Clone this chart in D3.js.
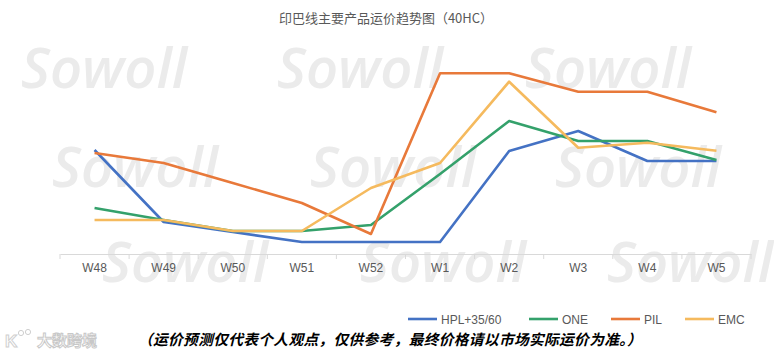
<!DOCTYPE html>
<html><head><meta charset="utf-8">
<script src="https://cdn.jsdelivr.net/npm/d3@7/dist/d3.min.js"></script>
<style>
html,body{margin:0;padding:0;background:#fff;}
svg{display:block;}
</style></head>
<body>
<svg id="chart" width="774" height="353"></svg>
<script>
const title = "印巴线主要产品运价趋势图（40HC）";
const categories = ["W48","W49","W50","W51","W52","W1","W2","W3","W4","W5"];
const seriesNames = ["HPL+35/60","ONE","PIL","EMC"];
const seriesColors = ["#4472C4","#34A16B","#E8793A","#F5BA5E"];
const hplValues = [1040, 320, 220, 120, 120, 120, 1030, 1230, 930, 930];
const oneValues = [460, 340, 230, 230, 290, 800, 1330, 1130, 1130, 940];
const pilValues = [1010, 910, 710, 510, 200, 1807, 1807, 1623, 1623, 1417];
const emcValues = [340, 340, 230, 230, 660, 910, 1723, 1063, 1113, 1033];
const note = "（运价预测仅代表个人观点，仅供参考，最终价格请以市场实际运价为准。）";
const watermark = "Sowoll";
const logoText = "大数跨境";

const seriesValues = [hplValues, oneValues, pilValues, emcValues];

const svg = d3.select("#chart");

// watermarks
const wmPos = [[21,88],[277,88],[525,88],[52,187],[310,187],[555,187],[102,282],[360,282],[607,282]];
svg.append("g").selectAll("text").data(wmPos).join("text")
  .attr("x", d => d[0]).attr("y", d => d[1])
  .attr("font-family", "'Open Sans', sans-serif")
  .attr("font-style", "italic").attr("font-weight", 600)
  .attr("font-size", 56).attr("fill", "#ebebeb")
  .text(watermark);

const x = d3.scaleBand().domain(categories).range([60, 751]);
const y = d3.scaleLinear().domain([0, 2000]).range([254, 54]);

// title
svg.append("text").attr("x", 386).attr("y", 23).attr("text-anchor", "middle")
  .attr("font-family", "'Noto Sans CJK SC', sans-serif").attr("font-size", 13)
  .attr("fill", "#595959").text(title);

// axis
const axis = d3.axisBottom(x).tickSize(0).tickPadding(9);
const gAxis = svg.append("g").attr("transform", "translate(0,254)").call(axis);
gAxis.select(".domain").attr("stroke", "#d9d9d9");
gAxis.selectAll("text").attr("font-family", "'Liberation Sans', Arial, sans-serif")
  .attr("font-size", 12).attr("fill", "#595959");
const bounds = categories.map(c => x(c)).concat([x.range()[1]]);
gAxis.selectAll("line.bt").data(bounds).join("line").attr("class","bt")
  .attr("x1", d => d).attr("x2", d => d).attr("y1", 0).attr("y2", 5)
  .attr("stroke", "#d9d9d9");

// lines
const line = d3.line().x((d, i) => x(categories[i]) + x.bandwidth() / 2).y(d => y(d));
svg.append("g").selectAll("path").data(seriesValues).join("path")
  .attr("d", d => line(d)).attr("fill", "none")
  .attr("stroke", (d, i) => seriesColors[i]).attr("stroke-width", 2.6)
  .attr("stroke-linejoin", "round");

// legend
const legendX = [408, 529, 611, 685];
const lg = svg.append("g").selectAll("g").data(seriesNames).join("g")
  .attr("transform", (d, i) => `translate(${legendX[i]},319)`);
lg.append("line").attr("x1", 0).attr("x2", 29).attr("y1", 0).attr("y2", 0)
  .attr("stroke", (d, i) => seriesColors[i]).attr("stroke-width", 2.6);
lg.append("text").attr("x", 33).attr("y", 4.5)
  .attr("font-family", "'Liberation Sans', Arial, sans-serif").attr("font-size", 12)
  .attr("fill", "#595959").text(d => d);

// note
svg.append("text").attr("x", 138).attr("y", 345)
  .attr("font-family", "'Noto Sans CJK SC', sans-serif").attr("font-size", 14.7)
  .attr("letter-spacing", 0.35)
  .attr("font-weight", 700).attr("font-style", "italic").attr("fill", "#000")
  .text(note);

// logo
const logo = svg.append("g").attr("fill", "none").attr("stroke", "#cfcfcf").attr("stroke-width", 1);
logo.append("text").attr("x", 5).attr("y", 347)
  .attr("font-family", "'Liberation Sans', Arial, sans-serif").attr("font-weight", 700)
  .attr("font-size", 17).attr("fill", "#fff").text("K");
logo.append("circle").attr("cx", 21).attr("cy", 333).attr("r", 2.6);
logo.append("circle").attr("cx", 28).attr("cy", 332).attr("r", 2.6);
logo.append("text").attr("x", 37).attr("y", 346)
  .attr("font-family", "'Noto Sans CJK SC', sans-serif").attr("font-weight", 700)
  .attr("font-size", 15).attr("fill", "#fff").attr("stroke", "#c8c8c8")
  .text(logoText);
</script>
</body></html>
